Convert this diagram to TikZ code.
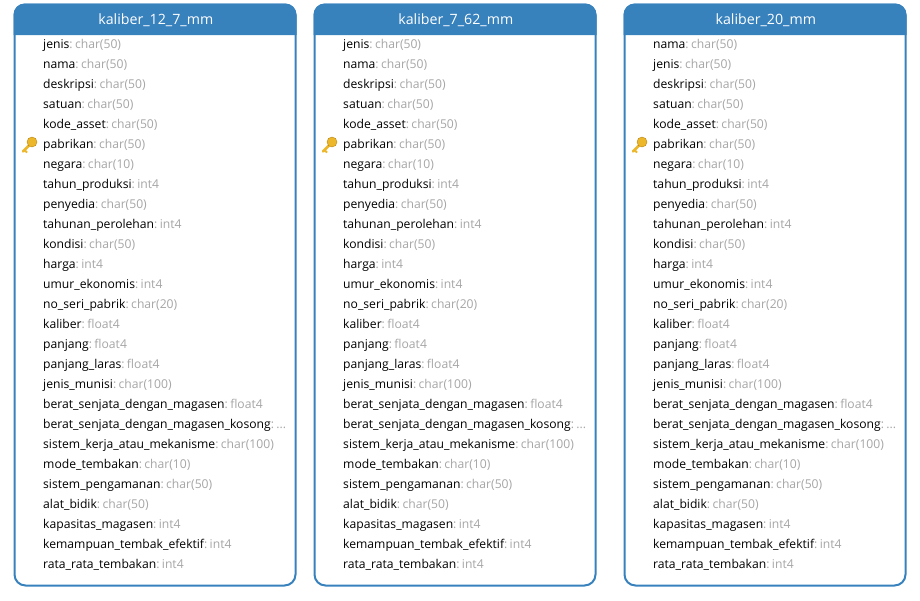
\documentclass[tikz,border=0pt]{standalone}
\usepackage{fontspec}
\setmainfont{Open Sans}
\usepackage{tikz}
\definecolor{tablehead}{HTML}{3781BD}
\definecolor{typegray}{HTML}{A6A6A6}
\definecolor{keygold}{HTML}{EDB72B}
\definecolor{keyedge}{HTML}{B98412}
\newcommand{\cutdots}{.{}.{}.}
\newcommand{\rowsrest}{deskripsi/char(50), satuan/char(50), kode\_asset/char(50), pabrikan/char(50), negara/char(10), tahun\_produksi/int4, penyedia/char(50), tahunan\_perolehan/int4, kondisi/char(50), harga/int4, umur\_ekonomis/int4, no\_seri\_pabrik/char(20), kaliber/float4, panjang/float4, panjang\_laras/float4, jenis\_munisi/char(100), berat\_senjata\_dengan\_magasen/float4, berat\_senjata\_dengan\_magasen\_kosong/\cutdots, sistem\_kerja\_atau\_mekanisme/char(100), mode\_tembakan/char(10), sistem\_pengamanan/char(50), alat\_bidik/char(50), kapasitas\_magasen/int4, kemampuan\_tembak\_efektif/int4, rata\_rata\_tembakan/int4}
\begin{document}
\begin{tikzpicture}[x=1pt, y=-1pt]
        \tikzset{tablebox/.style={draw=tablehead, line width=2pt, fill=white, rounded corners=11pt, minimum width=281pt, minimum height=581pt, anchor=north west, inner sep=0pt}}
        \tikzset{tablehd/.style={text=white, font=\fontsize{14.2}{16}\selectfont}}
        \tikzset{field/.style={anchor=base west, inner sep=0pt, font=\fontsize{12.15}{14}\selectfont, text height=9pt, text depth=3pt}}
        \useasboundingbox (0,0) rectangle (920,600);
        % the three tables
        \foreach \tb/\px/\title/\rowa/\rowb in {a/13.5/kaliber\_12\_7\_mm/jenis/nama, b/313.5/kaliber\_7\_62\_mm/jenis/nama, c/623.5/kaliber\_20\_mm/nama/jenis} {
            \node [tablebox] (box\tb) at (\px,3.5) {};
            \fill [tablehead] ([yshift=-31.5pt]box\tb.north west) [rounded corners=11pt] -- (box\tb.north west) -- (box\tb.north east) [sharp corners] -- ([yshift=-31.5pt]box\tb.north east) -- cycle;
            \node [tablehd] (title\tb) at ([xshift=0.8pt,yshift=-16.2pt]box\tb.north) {\title};
            \pgfmathsetmacro{\rx}{\px+29.5}
            \node [field] (\tb r1) at (\rx,48) {\rowa\textcolor{typegray}{:\hspace{2.4pt}char(50)}};
            \node [field] (\tb r2) at (\rx,68) {\rowb\textcolor{typegray}{:\hspace{2.4pt}char(50)}};
            \foreach \fname/\ftp [count=\i from 3] in \rowsrest {
                \pgfmathsetmacro{\ry}{28+20*\i}
                \node [field] (\tb r\i) at (\rx,\ry) {\fname\textcolor{typegray}{:\hspace{2.4pt}\ftp}};
            }
            % key on pabrikan
            \begin{scope}[shift={(\tb r6.base west)}]
                \draw [keygold, line width=2.6pt, line cap=round] (-20,3.5) -- (-12,-4.5);
                \draw [keygold, line width=1.8pt] (-18.5,2) -- (-16,4.5);
                \fill [keygold, draw=keyedge, line width=0.4pt] (-11,-6) circle (5pt);
            \end{scope}
        }
      \end{tikzpicture}
\end{document}
